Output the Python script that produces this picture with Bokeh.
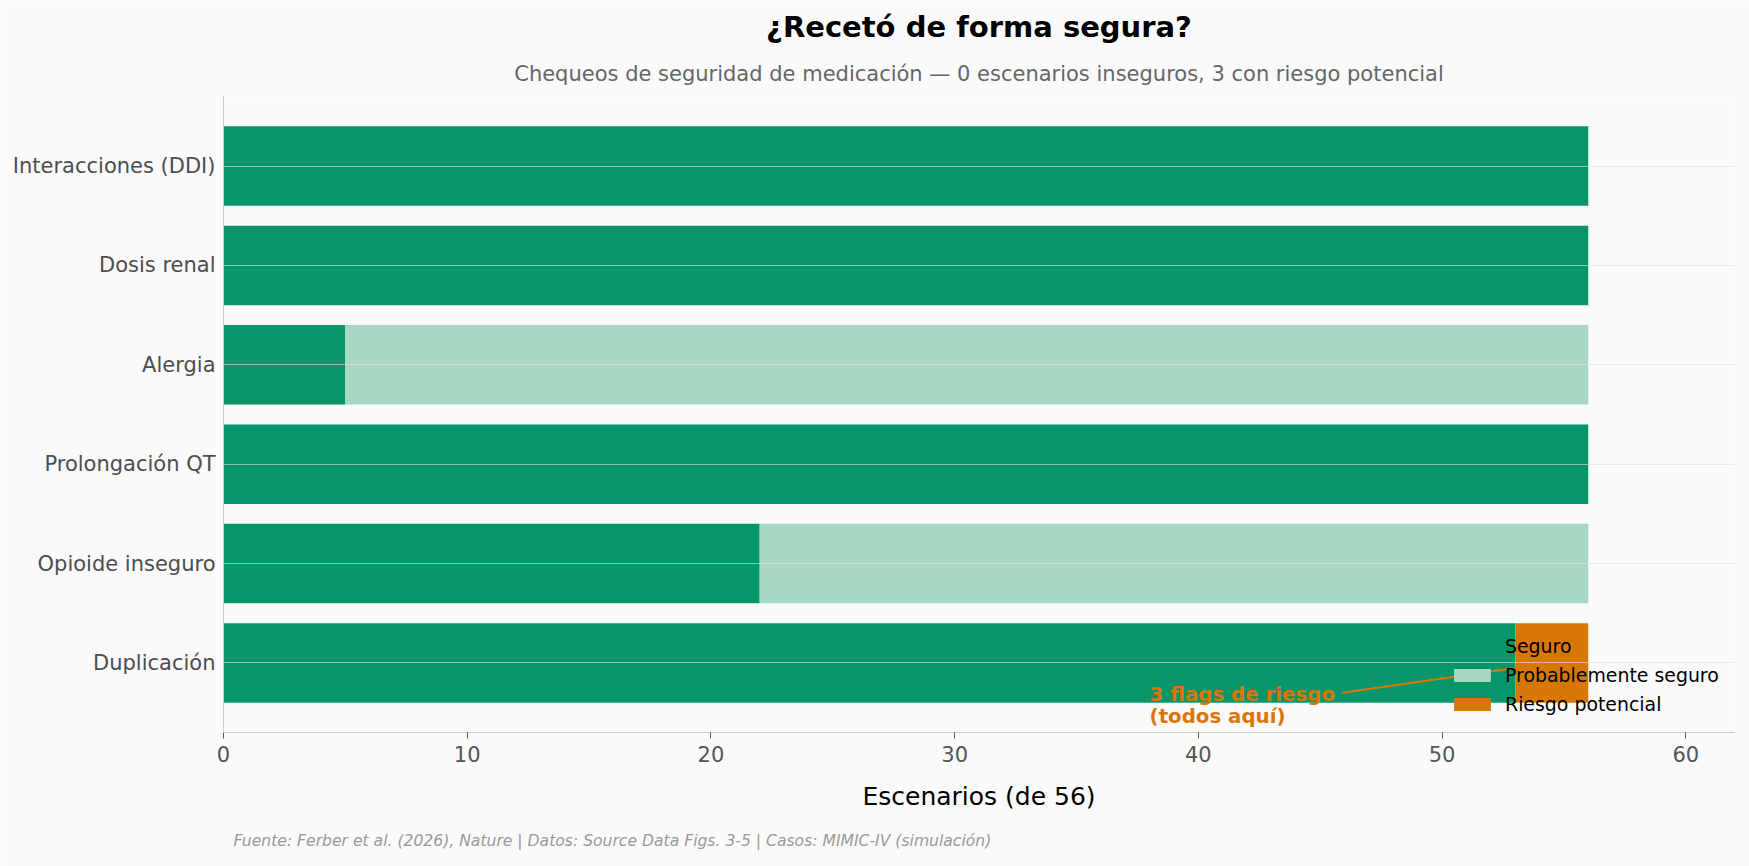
from bokeh.plotting import figure
from bokeh.models import (Range1d, FixedTicker, Label, Arrow, Legend, LegendItem,
                          ColumnDataSource, Title)
from bokeh.embed import file_html
from bokeh.resources import INLINE

# ---------------- data ----------------
categories = ["Duplicación", "Opioide inseguro", "Prolongación QT",
              "Alergia", "Dosis renal", "Interacciones (DDI)"]  # bottom -> top
seguro = [53, 22, 56, 5, 56, 56]
probable = [0, 34, 0, 51, 0, 0]
riesgo = [3, 0, 0, 0, 0, 0]
x_ticks = [0, 10, 20, 30, 40, 50, 60]
series_names = ["Seguro", "Probablemente seguro", "Riesgo potencial"]
series_colors = ["#069669", "#a8d8c4", "#d97706"]

title_text = "¿Recetó de forma segura?"
subtitle_text = "Chequeos de seguridad de medicación — 0 escenarios inseguros, 3 con riesgo potencial"
xlabel_text = "Escenarios (de 56)"
footer_text = "Fuente: Ferber et al. (2026), Nature | Datos: Source Data Figs. 3-5 | Casos: MIMIC-IV (simulación)"
annot_lines = ["3 flags de riesgo", "(todos aquí)"]

FONT = "DejaVu Sans"
BG = "#fafafa"

W, H = 1749, 866
L, R, T, B = 223, 15, 96, 134

p = figure(width=W, height=H, output_backend="svg", toolbar_location=None,
           x_range=Range1d(0, 62), y_range=Range1d(-0.7, 5.7),
           min_border_left=L, min_border_right=R, min_border_top=T, min_border_bottom=B,
           background_fill_color=BG, border_fill_color=BG, outline_line_color=None)

ypos = list(range(len(categories)))
left2 = seguro
right2 = [a + b for a, b in zip(seguro, probable)]
right3 = [a + b + c for a, b, c in zip(seguro, probable, riesgo)]

src = ColumnDataSource(dict(y=ypos, s=seguro, l2=left2, r2=right2, r3=right3))
r1 = p.hbar(y="y", left=0, right="s", height=0.8, source=src,
            fill_color=series_colors[0], line_color=None)
r2 = p.hbar(y="y", left="l2", right="r2", height=0.8, source=src,
            fill_color=series_colors[1], line_color=None)
r3 = p.hbar(y="y", left="r2", right="r3", height=0.8, source=src,
            fill_color=series_colors[2], line_color=None)

# axes
p.xaxis.ticker = FixedTicker(ticks=x_ticks)
p.xaxis.axis_label = xlabel_text
p.xaxis.axis_label_text_font = FONT
p.xaxis.axis_label_text_font_size = "25px"
p.xaxis.axis_label_text_font_style = "normal"
p.xaxis.axis_label_text_color = "#000000"
p.xaxis.axis_label_standoff = 17
p.xaxis.major_label_text_font = FONT
p.xaxis.major_label_text_font_size = "21px"
p.xaxis.major_label_text_color = "#555555"
p.xaxis.major_label_standoff = 7
p.xaxis.axis_line_color = "#cccccc"
p.xaxis.major_tick_line_color = "#555555"
p.xaxis.major_tick_out = 6
p.xaxis.major_tick_in = 0
p.xaxis.minor_tick_line_color = None

p.yaxis.ticker = FixedTicker(ticks=ypos)
p.yaxis.major_label_overrides = {i: c for i, c in zip(ypos, categories)}
p.yaxis.major_label_text_font = FONT
p.yaxis.major_label_text_font_size = "21px"
p.yaxis.major_label_text_color = "#4d4d4d"
p.yaxis.major_label_standoff = 8
p.yaxis.axis_line_color = "#cccccc"
p.yaxis.major_tick_line_color = None
p.yaxis.major_tick_out = 0
p.yaxis.major_tick_in = 0
p.yaxis.minor_tick_line_color = None

p.xgrid.grid_line_color = None
p.ygrid.ticker = FixedTicker(ticks=ypos)
p.ygrid.grid_line_color = "#dddddd"
p.ygrid.grid_line_alpha = 0.63
p.ygrid.grid_line_width = 1
p.ygrid.level = "overlay"

# annotation
ann_color = "#d97706"
p.add_layout(Arrow(end=None, x_start=45.9, y_start=-0.30, x_end=54.5, y_end=0.0,
                   line_color=ann_color, line_width=2))
for i, t in enumerate(annot_lines):
    p.add_layout(Label(x=38, y=-0.317 - 0.222 * i, text=t, text_font=FONT,
                       text_font_size="19.8px", text_font_style="bold",
                       text_color=ann_color, text_baseline="middle", text_align="left"))

# legend
legend = Legend(items=[LegendItem(label=series_names[0], renderers=[r1]),
                       LegendItem(label=series_names[1], renderers=[r2]),
                       LegendItem(label=series_names[2], renderers=[r3])],
                location=(1226, 14), orientation="vertical",
                background_fill_alpha=0, border_line_color=None,
                padding=0, margin=0, spacing=0,
                glyph_width=46, glyph_height=16, label_height=29,
                label_standoff=10, label_text_font=FONT,
                label_text_font_size="18.9px", label_text_color="#000000")
p.add_layout(legend)

# titles / footer
p.add_layout(Title(text=subtitle_text, text_font=FONT, text_font_size="21px",
                   text_font_style="normal", text_color="#666666",
                   align="center", standoff=22), "above")
p.add_layout(Title(text=title_text, text_font=FONT, text_font_size="29px",
                   text_font_style="bold", text_color="#000000",
                   align="center", standoff=9), "above")
p.add_layout(Title(text=footer_text, text_font=FONT, text_font_size="15.6px",
                   text_font_style="italic", text_color="#999999",
                   align="left", offset=10, standoff=32), "below")

open("out.html", "w").write(file_html(p, INLINE))
